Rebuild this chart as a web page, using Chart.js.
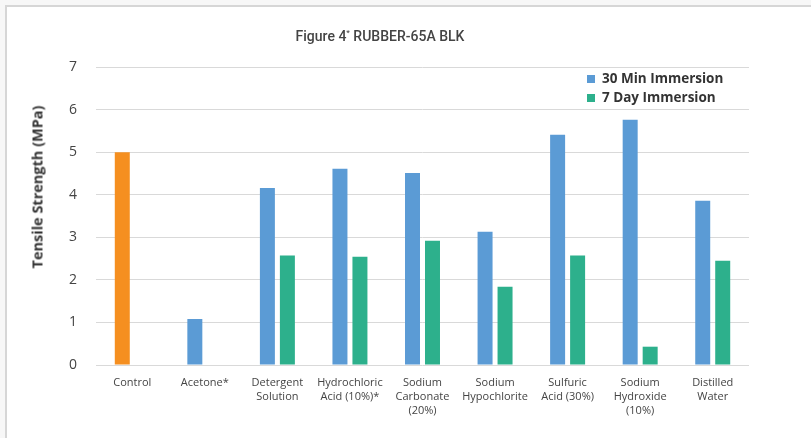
<!DOCTYPE html>
<html>
<head>
<meta charset="utf-8">
<script src="https://cdn.jsdelivr.net/npm/chart.js@4/dist/chart.umd.min.js"></script>
<style>
  body { margin: 0; background: #f7f7f7; }
  #wrap { position: relative; width: 811px; height: 438px; overflow: hidden; }
  #frame { position: absolute; left: 5px; top: 5px; width: 820px; height: 450px;
           background: #fff; border-top: 2px solid #d6d6d6; border-left: 2px solid #d6d6d6; }
  #chart { position: absolute; left: 0; top: 0; }
  #title { position: absolute; left: 0; width: 760px; top: 28px; text-align: center;
           font: 500 14px Roboto, sans-serif; color: #444; }
  #title sup { font-size: 8px; }
  #ytitle { position: absolute; left: 37px; top: 187px; transform: translate(-50%, -50%) rotate(-90deg);
            white-space: nowrap; font: bold 14.5px "Open Sans", sans-serif; color: #333; }
  #legend { position: absolute; left: 587px; top: 69px; font: bold 13.5px "Open Sans", sans-serif; color: #333; }
  #legend div { height: 19px; line-height: 19px; white-space: nowrap; }
  #legend span { display: inline-block; width: 8px; height: 8px; margin-right: 7px; vertical-align: 0px; }
</style>
</head>
<body>
<div id="wrap">
  <div id="frame"></div>
  <canvas id="chart" width="811" height="438"></canvas>
  <div id="title">Figure 4<sup>*</sup> RUBBER-65A BLK</div>
  <div id="ytitle">Tensile Strength (MPa)</div>
  <div id="legend"></div>
</div>
<script>
// Data
const categories = [
    ['Control'],
    ['Acetone*'],
    ['Detergent', 'Solution'],
    ['Hydrochloric', 'Acid (10%)*'],
    ['Sodium', 'Carbonate', '(20%)'],
    ['Sodium', 'Hypochlorite'],
    ['Sulfuric', 'Acid (30%)'],
    ['Sodium', 'Hydroxide', '(10%)'],
    ['Distilled', 'Water']
];
const seriesNames = ['30 Min Immersion', '7 Day Immersion'];
const min30Values = [5.0, 1.08, 4.16, 4.61, 4.51, 3.13, 5.41, 5.76, 3.86];
const day7Values = [null, null, 2.57, 2.54, 2.92, 1.84, 2.57, 0.43, 2.45];
const yTicks = [0, 1, 2, 3, 4, 5, 6, 7];

const blue = '#5b9bd5';
const green = '#2db08c';
const orange = '#f58f20';

// Control bar is orange, the rest of the 30 min series is blue
const min30Colors = min30Values.map((v, i) => i === 0 ? orange : blue);

// HTML legend (stacked, top right of plot)
const legendEl = document.getElementById('legend');
[blue, green].forEach((c, i) => {
    const row = document.createElement('div');
    row.innerHTML = `<span style="background:${c}"></span>${seriesNames[i]}`;
    legendEl.appendChild(row);
});

const ctx = document.getElementById('chart').getContext('2d');
new Chart(ctx, {
    type: 'bar',
    data: {
        labels: categories,
        datasets: [{
            label: seriesNames[0],
            data: min30Values,
            backgroundColor: min30Colors,
            categoryPercentage: 0.551,
            barPercentage: 0.75
        },
        {
            label: seriesNames[1],
            data: day7Values,
            backgroundColor: green,
            categoryPercentage: 0.551,
            barPercentage: 0.75
        }]
    },
    options: {
        responsive: false,
        animation: false,
        devicePixelRatio: 1,
        layout: { padding: { left: 56, right: 62, top: 67, bottom: 0 } },
        plugins: {
            legend: { display: false },
            title: { display: false },
            tooltip: { enabled: false }
        },
        scales: {
            x: {
                grid: { display: false },
                border: { display: false },
                ticks: {
                    color: '#444',
                    font: { family: 'Open Sans', size: 11, lineHeight: 1.25 },
                    padding: 3,
                    maxRotation: 0,
                    autoSkip: false
                },
                afterFit: scale => { scale.height = 73; }
            },
            y: {
                min: 0,
                max: 7,
                afterBuildTicks: scale => { scale.ticks = yTicks.map(v => ({ value: v })); },
                grid: { color: '#d9d9d9', lineWidth: 1, drawTicks: false },
                border: { display: false },
                ticks: {
                    color: '#444',
                    font: { family: 'Open Sans', size: 14 },
                    padding: 19
                },
                afterFit: scale => { scale.width = 40; }
            }
        }
    }
});
</script>
</body>
</html>
